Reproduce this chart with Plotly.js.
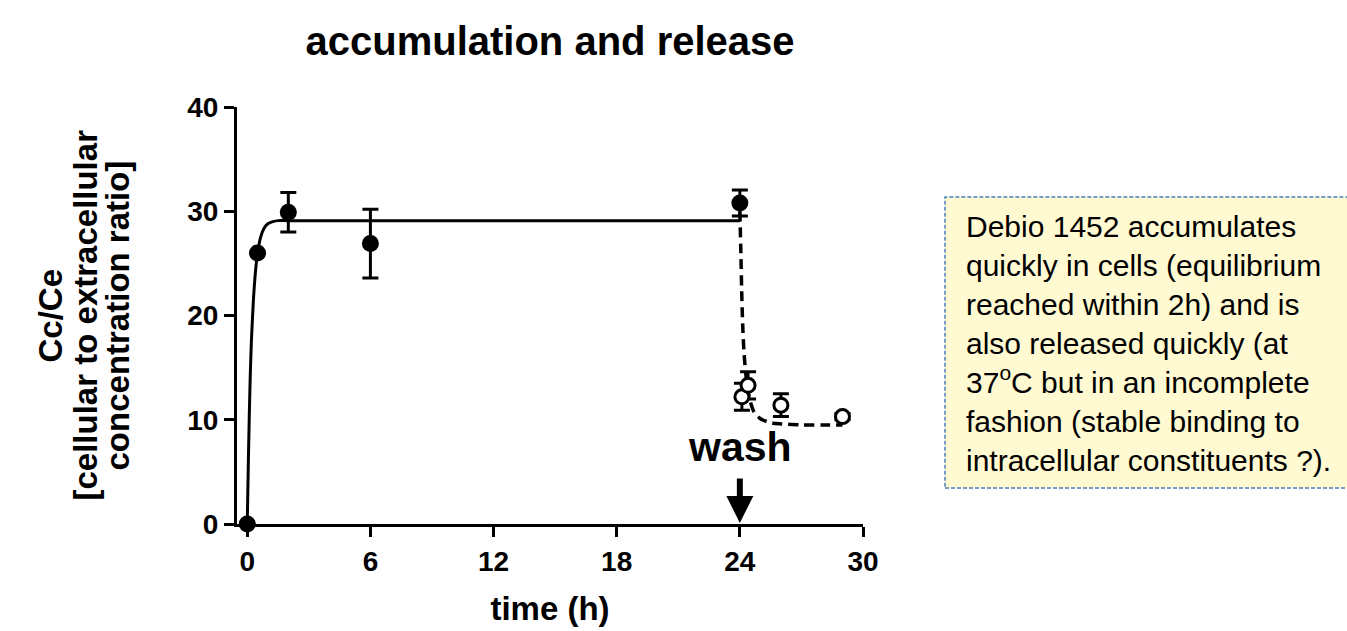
<!DOCTYPE html>
<html>
<head>
<meta charset="utf-8">
<script src="https://cdn.plot.ly/plotly-3.0.1.min.js"></script>
<style>html,body{margin:0;padding:0;background:#fff;}#chart{width:1347px;height:631px;}</style>
</head>
<body>
<div id="chart"></div>
<script>
// ---- data ----
const filledTime = [0, 0.5, 2, 6, 24];
const filledRatio = [0, 26, 29.9, 26.9, 30.8];
const filledErr = [0, 0, 1.9, 3.3, 1.25];

const openTime = [24.1, 24.4, 26, 29];
const openRatio = [12.2, 13.3, 11.4, 10.3];
const openErr = [1.3, 1.3, 1.1, 0.3];

// accumulation fit curve
const fitUpTime = [0, 0.05, 0.1, 0.15, 0.2, 0.3, 0.4, 0.5, 0.65, 0.8, 1.0, 1.25, 1.5, 2, 6, 12, 24];
const fitUpRatio = [0, 5.6, 10.5, 14.5, 17.5, 21.5, 24.2, 26.0, 27.5, 28.3, 28.8, 29.0, 29.1, 29.1, 29.1, 29.1, 29.1];

// release fit curve
const fitDownTime = [24.0, 24.05, 24.1, 24.15, 24.2, 24.3, 24.4, 24.5, 24.7, 25.0, 25.5, 26, 27, 28, 29];
const fitDownRatio = [30.0, 26.0, 21.5, 18.5, 16.5, 14.2, 12.8, 11.8, 10.7, 10.1, 9.7, 9.6, 9.5, 9.5, 9.5];

const xTicks = [0, 6, 12, 18, 24, 30];
const yTicks = [0, 10, 20, 30, 40];
const washTime = 24;

const titleText = 'accumulation and release';
const xTitle = 'time (h)';
const yTitleLines = ['Cc/Ce', '[cellular to extracellular', 'concentration ratio]'];
const noteLines = [
  'Debio 1452 accumulates',
  'quickly in cells (equilibrium',
  'reached within 2h) and is',
  'also released quickly (at',
  '37<sup>o</sup>C but in an incomplete',
  'fashion (stable binding to',
  'intracellular constituents ?).'
];

const FONT = 'Liberation Sans, Arial, Helvetica, sans-serif';

const traces = [
  {
    x: fitUpTime, y: fitUpRatio, mode: 'lines', type: 'scatter',
    line: {color: '#000', width: 3, shape: 'spline', smoothing: 0.6},
    hoverinfo: 'skip', showlegend: false, cliponaxis: false
  },
  {
    x: fitDownTime, y: fitDownRatio, mode: 'lines', type: 'scatter',
    line: {color: '#000', width: 3.5, dash: '10px,6px', shape: 'spline', smoothing: 0.6},
    hoverinfo: 'skip', showlegend: false
  },
  {
    x: filledTime, y: filledRatio, mode: 'markers', type: 'scatter',
    marker: {symbol: 'circle', size: 17, color: '#000'},
    error_y: {type: 'data', array: filledErr, visible: true, color: '#000', thickness: 3, width: 8},
    showlegend: false, cliponaxis: false
  },
  {
    x: openTime, y: openRatio, mode: 'markers', type: 'scatter',
    marker: {symbol: 'circle', size: 14, color: '#fff', line: {color: '#000', width: 3}},
    error_y: {type: 'data', array: openErr, visible: true, color: '#000', thickness: 3, width: 8},
    showlegend: false, cliponaxis: false
  }
];

const annotations = [];
// y axis title lines
const yTitleX = [-0.2987, -0.2428, -0.1901];
yTitleLines.forEach((t, i) => {
  annotations.push({
    xref: 'paper', yref: 'paper', x: yTitleX[i], y: 0.5,
    text: t, showarrow: false, textangle: -90,
    xanchor: 'center', yanchor: 'middle',
    font: {family: FONT, size: 33, color: '#000', weight: 'bold'}
  });
});
// wash label and arrow
annotations.push({
  xref: 'x', yref: 'y', x: washTime, y: 7.4, text: 'wash', showarrow: false,
  xanchor: 'center', yanchor: 'middle',
  font: {family: FONT, size: 41, color: '#000', weight: 'bold'}
});
annotations.push({
  xref: 'x', yref: 'y', axref: 'x', ayref: 'y',
  x: washTime, y: 0.1, ax: washTime, ay: 4.5, text: '',
  showarrow: true, arrowhead: 2, arrowsize: 0.9, arrowwidth: 6, arrowcolor: '#000', standoff: 0
});
// note text
annotations.push({
  xref: 'paper', yref: 'paper', x: 1.161, y: 0.4317,
  xanchor: 'left', yanchor: 'middle', align: 'left',
  text: noteLines.join('<br>'), showarrow: false,
  font: {family: FONT, size: 30, color: '#000'}
});

const layout = {
  width: 1347, height: 631,
  margin: {l: 237, r: 484, t: 107, b: 107},
  paper_bgcolor: '#fff', plot_bgcolor: '#fff',
  showlegend: false,
  title: {
    text: titleText, xref: 'paper', x: 0.5, xanchor: 'center',
    yref: 'container', y: 0.935, yanchor: 'middle',
    font: {family: FONT, size: 40, color: '#000', weight: 'bold'}
  },
  xaxis: {
    range: [-0.5, 30], tickvals: xTicks, ticktext: xTicks.map(String),
    showline: true, linecolor: '#000', linewidth: 3,
    ticks: 'outside', ticklen: 10, tickwidth: 3, tickcolor: '#000',
    showgrid: false, zeroline: false,
    tickfont: {family: FONT, size: 28, color: '#000', weight: 'bold'},
    title: {text: xTitle, standoff: 22, font: {family: FONT, size: 33, color: '#000', weight: 'bold'}}
  },
  yaxis: {
    range: [0, 40], tickvals: yTicks, ticktext: yTicks.map(String),
    showline: true, linecolor: '#000', linewidth: 3,
    ticks: 'outside', ticklen: 10, tickwidth: 3, tickcolor: '#000',
    showgrid: false, zeroline: false,
    tickfont: {family: FONT, size: 28, color: '#000', weight: 'bold'}
  },
  shapes: [{
    type: 'rect', xref: 'paper', yref: 'paper',
    x0: 1.131, x1: 1.95, y0: 0.0863, y1: 0.784,
    fillcolor: '#FFFAD2', line: {color: '#4A7EBB', width: 1.5, dash: '4px,2px'}, layer: 'below'
  }],
  annotations: annotations
};

Plotly.newPlot('chart', traces, layout, {displayModeBar: false, staticPlot: true});
</script>
</body>
</html>
